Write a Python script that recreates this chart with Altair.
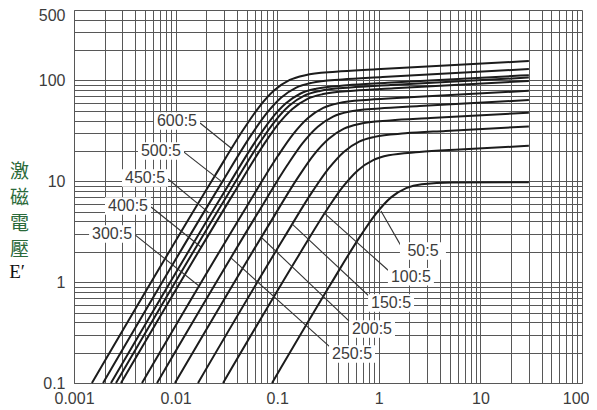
import altair as alt
import pandas as pd

# ---- curve data (excitation current vs excitation voltage) ----
A_X = [0.0015, 0.0243, 0.0472, 0.0669, 0.0943, 0.133, 0.189, 0.377, 0.943, 30]
A_Y = [0.1, 11.3, 33.4, 55.2, 80.3, 101.2, 112.8, 122.0, 128.9, 156]
B_X = [0.00193, 0.0281, 0.0546, 0.0775, 0.109, 0.154, 0.218, 0.436, 1.09, 30]
B_Y = [0.1, 9.49, 28.1, 46.4, 67.5, 85.0, 94.7, 102.5, 108.3, 130]
C_X = [0.00231, 0.0312, 0.0605, 0.0858, 0.121, 0.170, 0.242, 0.484, 1.21, 30]
C_Y = [0.1, 8.30, 24.5, 40.5, 59.0, 74.3, 82.8, 89.6, 94.7, 113]
D_X = [0.00259, 0.0339, 0.0657, 0.0932, 0.131, 0.185, 0.263, 0.525, 1.31, 30]
D_Y = [0.1, 7.89, 23.3, 38.5, 56.1, 70.7, 78.7, 85.2, 90.0, 107]
E_X = [0.0029, 0.0365, 0.0707, 0.100, 0.141, 0.199, 0.283, 0.565, 1.41, 30]
E_Y = [0.1, 7.34, 21.7, 35.9, 52.2, 65.8, 73.3, 79.3, 83.8, 99]
F_X = [0.00467, 0.0519, 0.101, 0.143, 0.201, 0.284, 0.402, 0.804, 2.01, 30]
F_Y = [0.1, 5.97, 17.7, 29.2, 42.4, 53.5, 59.6, 64.4, 68.1, 79]
G_X = [0.00656, 0.0649, 0.126, 0.178, 0.251, 0.355, 0.503, 1.01, 2.51, 30]
G_Y = [0.1, 4.90, 14.5, 23.9, 34.8, 43.8, 48.9, 52.8, 55.8, 64]
H_X = [0.00986, 0.083, 0.161, 0.228, 0.322, 0.454, 0.643, 1.29, 3.22, 30]
H_Y = [0.1, 3.72, 11.0, 18.2, 26.4, 33.3, 37.1, 40.2, 42.4, 48]
I_X = [0.0166, 0.117, 0.227, 0.323, 0.455, 0.641, 0.909, 1.82, 4.55, 30]
I_Y = [0.1, 2.77, 8.18, 13.5, 19.7, 24.8, 27.6, 29.9, 31.6, 35]
J_X = [0.0293, 0.161, 0.313, 0.444, 0.625, 0.881, 1.25, 2.50, 6.25, 30]
J_Y = [0.1, 1.81, 5.35, 8.85, 12.9, 16.2, 18.1, 19.5, 20.7, 22.5]
K_X = [0.0889, 0.340, 0.660, 0.936, 1.32, 1.86, 2.64, 5.28, 30]
K_Y = [0.1, 0.975, 2.88, 4.76, 6.93, 8.57, 9.37, 9.76, 9.8]

CURVE_IDS = ["A", "B", "C", "D", "E", "F", "G", "H", "I", "J", "K"]
CURVE_XS = [A_X, B_X, C_X, D_X, E_X, F_X, G_X, H_X, I_X, J_X, K_X]
CURVE_YS = [A_Y, B_Y, C_Y, D_Y, E_Y, F_Y, G_Y, H_Y, I_Y, J_Y, K_Y]

# ---- grid / tick values ----
X_GRID = [0.001, 0.002, 0.003, 0.004, 0.005, 0.006, 0.007, 0.008, 0.009,
          0.01, 0.02, 0.03, 0.04, 0.05, 0.06, 0.07, 0.08, 0.09,
          0.1, 0.2, 0.3, 0.4, 0.5, 0.6, 0.7, 0.8, 0.9,
          1, 2, 3, 4, 5, 6, 7, 8, 9,
          10, 20, 30, 40, 50, 60, 70, 80, 90, 100]
Y_GRID = [0.1, 0.2, 0.3, 0.4, 0.5, 0.6, 0.7, 0.8, 0.9,
          1, 2, 3, 4, 5, 6, 7, 8, 9,
          10, 20, 30, 40, 50, 60, 70, 80, 90,
          100, 200, 300, 400, 500]
X_TICK_LABELS = ["0.001", "0.01", "0.1", "1", "10", "100"]
Y_TICK_LABELS = ["0.1", "1", "10", "100", "500"]

# ---- ratio labels and leader lines (data units) ----
LABEL_TEXT = ["600:5", "500:5", "450:5", "400:5", "300:5",
              "50:5", "100:5", "150:5", "200:5", "250:5"]
LABEL_X = [0.01032, 0.00718, 0.00500, 0.00340, 0.00237,
           2.72, 2.07, 1.32, 0.857, 0.545]
LABEL_Y = [39.7, 20.0, 10.8, 5.70, 3.01,
           2.04, 1.13, 0.622, 0.3435, 0.194]
LEAD_X1 = [0.01739, 0.01210, 0.00842, 0.00573, 0.00399,
           1.654, 1.26, 0.819, 0.5326, 0.3385]
LEAD_Y1 = [37.9, 19.5, 10.55, 5.57, 2.94,
           2.29, 1.29, 0.713, 0.394, 0.2226]
LEAD_X2 = [0.03510, 0.02862, 0.02132, 0.01778, 0.01700,
           1.051, 0.2888, 0.1398, 0.0709, 0.0351]
LEAD_Y2 = [21.4, 9.86, 4.86, 2.23, 0.917,
           5.08, 4.86, 3.78, 2.74, 1.738]

Y_TITLE = ["激", "磁", "電", "壓"]
Y_TITLE_SUFFIX = ["E′"]

# ---- build tables ----
rows = []
for cid, xs, ys in zip(CURVE_IDS, CURVE_XS, CURVE_YS):
    for x, y in zip(xs, ys):
        rows.append({"curve": cid, "I": x, "E": y})
curves_df = pd.DataFrame(rows)
labels_df = pd.DataFrame({"text": LABEL_TEXT, "I": LABEL_X, "E": LABEL_Y})
leaders_df = pd.DataFrame({"I": LEAD_X1, "E": LEAD_Y1, "I2": LEAD_X2, "E2": LEAD_Y2})
suffix_df = pd.DataFrame({"t": Y_TITLE_SUFFIX})

GRID_COLOR = "#575757"
LABEL_COLOR = "#3c3c3c"

xscale = alt.Scale(type="log", domain=[0.001, 100], nice=False)
yscale = alt.Scale(type="log", domain=[0.1, 500], nice=False)

x_label_list = ",".join("'%s'" % s for s in X_TICK_LABELS)
y_label_list = ",".join("'%s'" % s for s in Y_TICK_LABELS)

x_axis = alt.Axis(
    values=X_GRID, title=None, grid=True, ticks=False,
    gridColor=GRID_COLOR, gridWidth=1.0, gridOpacity=1,
    domainColor=GRID_COLOR, domainWidth=1.0,
    labelExpr="indexof([%s], format(datum.value, '~g')) >= 0 ? format(datum.value, '~g') : ''" % x_label_list,
    labelFont="Liberation Sans", labelFontSize=16, labelColor=LABEL_COLOR,
    labelPadding=7, labelOverlap=False, labelFlush=False,
    labelAlign={"condition": {"test": "datum.value >= 100", "value": "right"}, "value": "center"},
    labelOffset={"condition": {"test": "datum.value >= 100", "value": 7}, "value": 0},
)
y_axis = alt.Axis(
    values=Y_GRID, grid=True, ticks=False,
    gridColor=GRID_COLOR, gridWidth=1.0, gridOpacity=1,
    domainColor=GRID_COLOR, domainWidth=1.0,
    labelExpr="indexof([%s], format(datum.value, '~g')) >= 0 ? format(datum.value, '~g') : ''" % y_label_list,
    labelFont="Liberation Sans", labelFontSize=16, labelColor=LABEL_COLOR,
    labelPadding=9, labelOverlap=False, labelFlush=False,
    labelOffset={"condition": {"test": "datum.value >= 500", "value": 5}, "value": 0},
    title=Y_TITLE, titleAngle=0, titleX=-55, titleY=152,
    titleAlign="center", titleBaseline="top",
    titleFont="Noto Sans CJK TC", titleFontSize=19, titleFontWeight="normal",
    titleColor="#2a6a3a", titleLineHeight=26,
)

X_ENC = alt.X("I:Q", scale=xscale, axis=x_axis)
Y_ENC = alt.Y("E:Q", scale=yscale, axis=y_axis)

lines = alt.Chart(curves_df).mark_line(
    color="#1c1c1c", strokeWidth=2.0, interpolate="monotone"
).encode(x=X_ENC, y=Y_ENC, detail="curve:N")

leaders = alt.Chart(leaders_df).mark_rule(color="#333333", strokeWidth=1.1).encode(
    x=X_ENC, y=Y_ENC, x2="I2:Q", y2="E2:Q",
)

BOX_PATH = "M-1,-0.38L1,-0.38L1,0.38L-1,0.38Z"
boxes = alt.Chart(labels_df).mark_point(
    shape=BOX_PATH, filled=True, color="white", opacity=1, size=2116, strokeWidth=0
).encode(x=X_ENC, y=Y_ENC)

texts = alt.Chart(labels_df).mark_text(
    font="Liberation Sans", fontSize=16, color=LABEL_COLOR, align="center", baseline="middle"
).encode(x=X_ENC, y=Y_ENC, text="text:N")

suffix = alt.Chart(suffix_df).mark_text(
    font="Liberation Serif", fontSize=19, color="#111111", align="center", baseline="middle"
).encode(x=alt.value(-57), y=alt.value(262), text="t:N")

chart = alt.layer(lines, leaders, boxes, texts, suffix).properties(
    width=508,
    height=373,
    autosize=alt.AutoSizeParams(type="none"),
    padding={"left": 66, "top": 2, "right": 7, "bottom": 26},
    background="white",
).configure_view(stroke=None)

chart.save("out.html", embed_options={"renderer": "svg", "actions": False})
